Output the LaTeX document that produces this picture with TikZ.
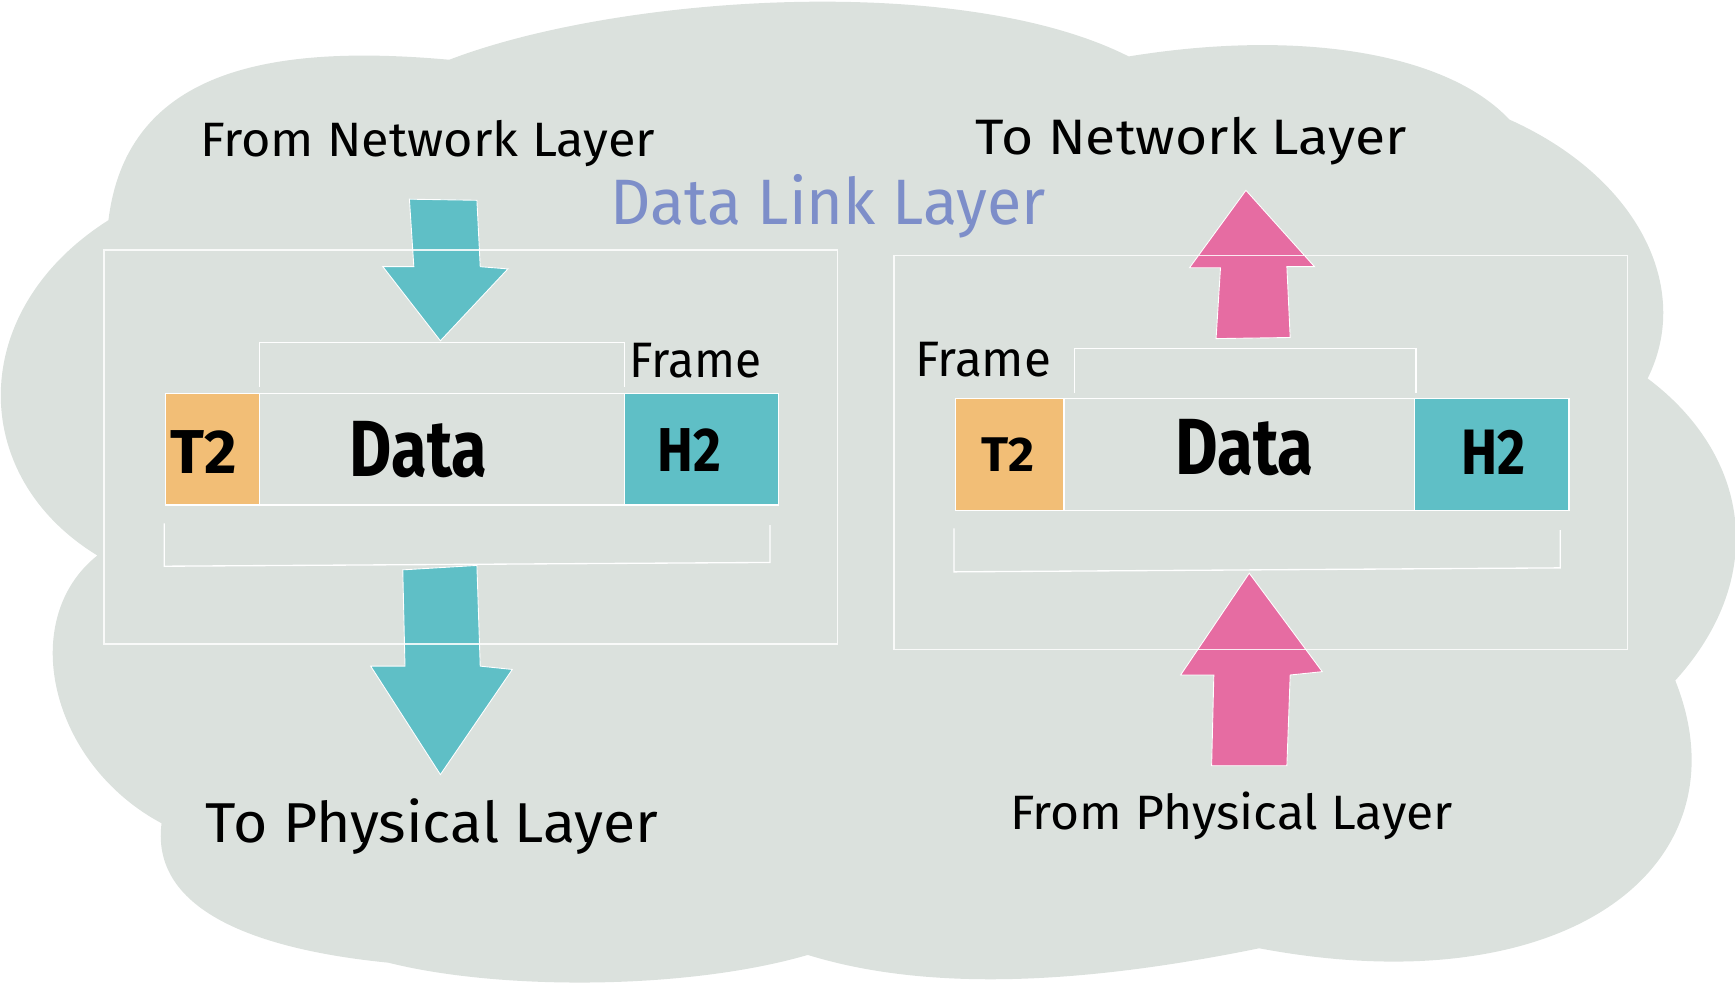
\documentclass[tikz,border=0pt]{standalone}
\usepackage{fontspec}
\setmainfont{Fira Sans}
\usepackage{graphicx}
\definecolor{cloudc}{HTML}{DBE1DD}
\definecolor{tealc}{HTML}{5FBFC6}
\definecolor{pinkc}{HTML}{E66CA2}
\definecolor{orangec}{HTML}{F2BE76}
\definecolor{bluec}{HTML}{7D8EC9}
\newlength\fitlen
\newcommand\fitw[2]{\settowidth{\fitlen}{#2}\pgfmathsetmacro\fitr{#1/\fitlen}\scalebox{\fitr}[1]{#2}}
\newcommand\fs[1]{\fontsize{#1}{#1}\selectfont}
\begin{document}
\begin{tikzpicture}[x=0.5pt,y=-0.5pt,
  lbl/.style={anchor=base west,inner sep=0pt,outer sep=0pt,text=black},
  wline/.style={draw=white,line width=0.6pt},
  arrowt/.style={fill=tealc,draw=white,line width=0.4pt,line join=miter},
  arrowp/.style={fill=pinkc,draw=white,line width=0.4pt,line join=miter}]
\useasboundingbox (0,0) rectangle (1568,890);
% cloud
\fill[cloudc] (98,199) .. controls (115,60) and (250,40) .. (406,54)
  .. controls (560,-5) and (870,-25) .. (1020,51)
  .. controls (1180,25) and (1310,50) .. (1364,108)
  .. controls (1480,160) and (1530,260) .. (1489,342)
  .. controls (1580,410) and (1600,520) .. (1514,615)
  .. controls (1580,780) and (1420,910) .. (1138,857)
  .. controls (1000,885) and (850,900) .. (730,863)
  .. controls (620,895) and (450,895) .. (351,870)
  .. controls (250,860) and (135,830) .. (146,744)
  .. controls (45,690) and (15,560) .. (88,502)
  .. controls (-30,430) and (-30,280) .. (98,199) -- cycle;
% arrows
\filldraw[arrowt] (370,180) -- (431,181) -- (434,241) -- (459,243) -- (398,308) -- (346,241) -- (374,241) -- cycle;
\filldraw[arrowt] (364,515) -- (431,511) -- (434,602) -- (463,605) -- (398,700) -- (335,602) -- (366,602) -- cycle;
\filldraw[arrowp] (1126,172) -- (1188,241) -- (1163,241) -- (1166,305) -- (1099,306) -- (1103,242) -- (1075,242) -- cycle;
\filldraw[arrowp] (1129,518) -- (1195,607) -- (1166,610) -- (1163,692) -- (1095,692) -- (1097,610) -- (1067,610) -- cycle;
% outer boxes
\draw[wline,draw opacity=0.85] (94,226) rectangle (757,582);
\draw[wline,draw opacity=0.85] (808,231) rectangle (1471,587);
% left frame
\fill[orangec] (149.5,355.6) rectangle (234.8,456.5);
\fill[tealc] (564.4,355.6) rectangle (703.3,456.5);
\draw[wline] (149.5,355.6) rectangle (703.3,456.5);
\draw[wline] (234.8,355.6) -- (234.8,456.5) (564.4,355.6) -- (564.4,456.5);
\draw[wline] (234.8,349.5) -- (234.8,309.8) -- (564.4,309.8) -- (564.4,349.5);
\draw[wline] (148.5,473) -- (148.5,511.7) -- (695.8,508.3) -- (695.8,474.6);
% right frame
\fill[orangec] (863.3,360) rectangle (961.6,461.6);
\fill[tealc] (1278.6,360) rectangle (1418,461.6);
\draw[wline] (863.3,360) rectangle (1418,461.6);
\draw[wline] (961.6,360) -- (961.6,461.6) (1278.6,360) -- (1278.6,461.6);
\draw[wline] (971,355.6) -- (971,315) -- (1279.6,315) -- (1279.6,355.6);
\draw[wline] (862.2,477.6) -- (862.2,516.8) -- (1410,513.2) -- (1410,479);
% texts
\node[lbl] (fnl) at (181,141.6) {\fs{21.8}\fitw{205.5pt}{From Network Layer}};
\node[lbl] (tnl) at (882,140) {\fs{22.5}\fitw{194.5pt}{To Network Layer}};
\node[lbl,text=bluec] (dll) at (552,203) {\fs{29}\fitw{196.5pt}{Data Link Layer}};
\node[lbl] (tpl) at (186,761) {\fs{25.4}\fitw{204.5pt}{To Physical Layer}};
\node[lbl] (fpl) at (913,750) {\fs{21.8}\fitw{200pt}{From Physical Layer}};
\node[lbl] (frl) at (569,341) {\fs{22.5}\fitw{59.5pt}{Frame}};
\node[lbl] (frr) at (827,340) {\fs{22.5}\fitw{61.5pt}{Frame}};
\node[lbl] (datal) at (316,431) {\fs{36}\bfseries\fitw{62pt}{Data}};
\node[lbl] (t2l) at (154.5,428) {\fs{28}\bfseries\fitw{30pt}{T2}};
\node[lbl] (h2l) at (594.5,426) {\fs{28}\bfseries\fitw{28.75pt}{H2}};
\node[lbl] (datar) at (1062,429) {\fs{36}\bfseries\fitw{62.5pt}{Data}};
\node[lbl] (t2r) at (887,426) {\fs{22}\bfseries\fitw{24pt}{T2}};
\node[lbl] (h2r) at (1321,429) {\fs{29}\bfseries\fitw{29pt}{H2}};
\end{tikzpicture}
\end{document}
